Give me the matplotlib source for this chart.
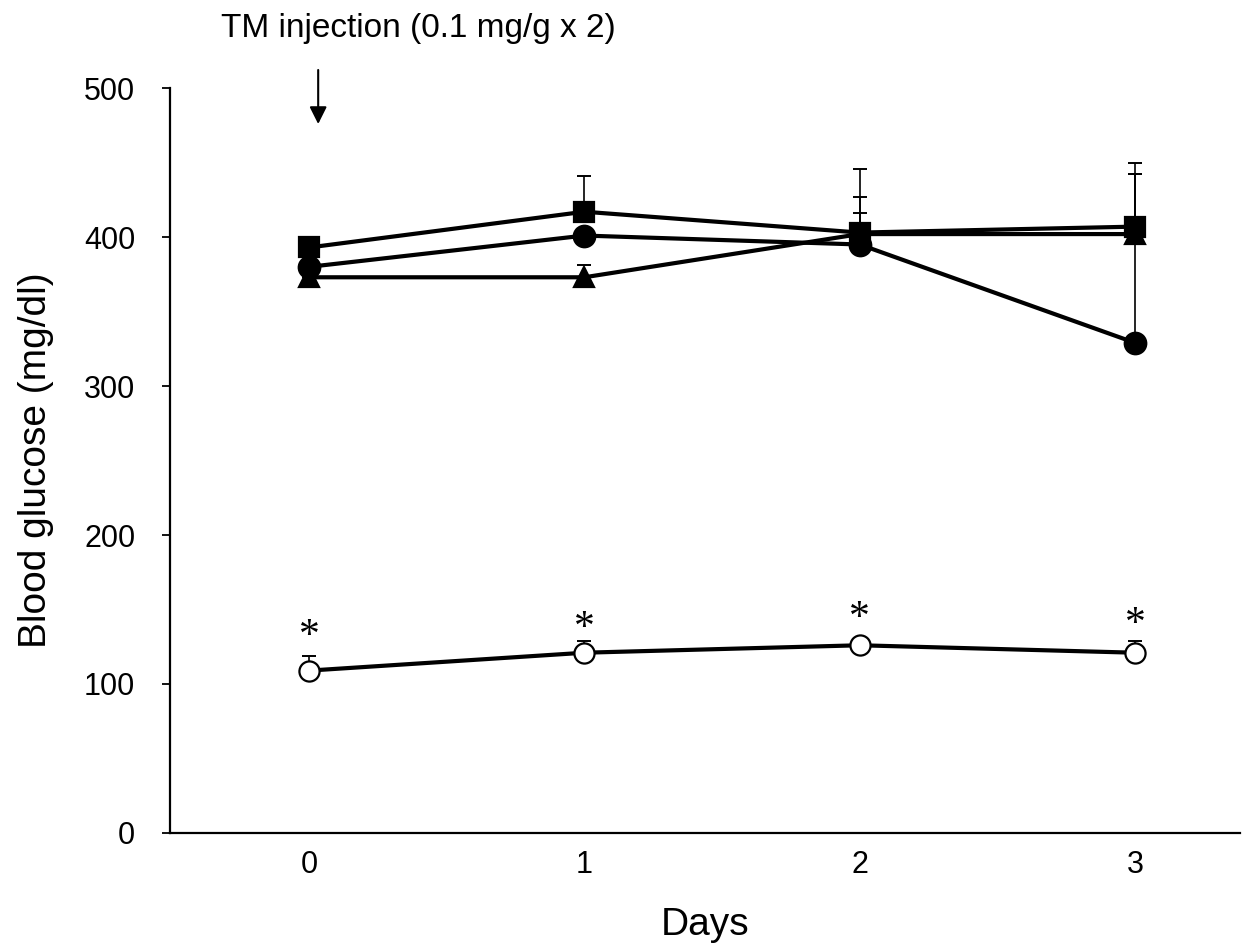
import matplotlib
matplotlib.use("Agg")
import matplotlib.pyplot as plt
import numpy as np

plt.rcParams['font.family'] = ['Liberation Sans', 'DejaVu Sans']

days = [0, 1, 2, 3]
square = [393, 417, 403, 407]
square_err = [0, 24, 43, 35]
circle = [380, 401, 395, 329]
circle_err = [0, 0, 21, 121]
triangle = [373, 373, 402, 402]
triangle_err = [0, 8, 25, 40]
open_circle = [109, 121, 126, 121]
open_err = [10, 8, 3, 8]
star_y = [135, 140, 147, 143]

fig = plt.figure(figsize=(12.56, 9.47), dpi=100)
ax = fig.add_axes([0.1354, 0.1204, 0.8516, 0.7866])

def plot_series(y, err, marker, face, ms=15):
    ax.errorbar(days, y, yerr=[np.zeros(len(err)), err], fmt='none',
                ecolor='black', elinewidth=1.2, capsize=5, capthick=1.4, zorder=2)
    ax.plot(days, y, color='black', lw=3.0, marker=marker, markersize=ms,
            markerfacecolor=face, markeredgecolor='black', markeredgewidth=1.6, zorder=3)

plot_series(open_circle, open_err, 'o', 'white', ms=14.5)
plot_series(triangle, triangle_err, '^', 'black', ms=15)
plot_series(circle, circle_err, 'o', 'black', ms=15.5)
plot_series(square, square_err, 's', 'black', ms=14)

for d, s in zip(days, star_y):
    ax.text(d, s, '*', ha='center', va='center_baseline', fontsize=30,
            family=['Liberation Serif', 'DejaVu Serif'])

ax.set_xlim(-0.505, 3.38)
ax.set_ylim(0, 500)
ax.set_xticks(days)
ax.set_yticks([0, 100, 200, 300, 400, 500])
ax.tick_params(axis='x', length=0, labelsize=22, pad=12)
ax.tick_params(axis='y', length=6, width=1.3, labelsize=22, pad=19)
for sp in ['top', 'right']:
    ax.spines[sp].set_visible(False)
for sp in ['left', 'bottom']:
    ax.spines[sp].set_linewidth(1.6)

ax.set_xlabel('Days', fontsize=28, labelpad=20)
ax.set_ylabel('Blood glucose (mg/dl)', fontsize=28, labelpad=22)

fig.text(418/1256, 1 - 29/947, 'TM injection (0.1 mg/g x 2)', ha='center', va='center', fontsize=24)
ax.annotate('', xy=(0.033, 474), xytext=(0.033, 514), xycoords='data',
            arrowprops=dict(arrowstyle='-|>', color='black', lw=1.5, mutation_scale=26),
            annotation_clip=False)

fig.savefig('out.png', dpi=100)
